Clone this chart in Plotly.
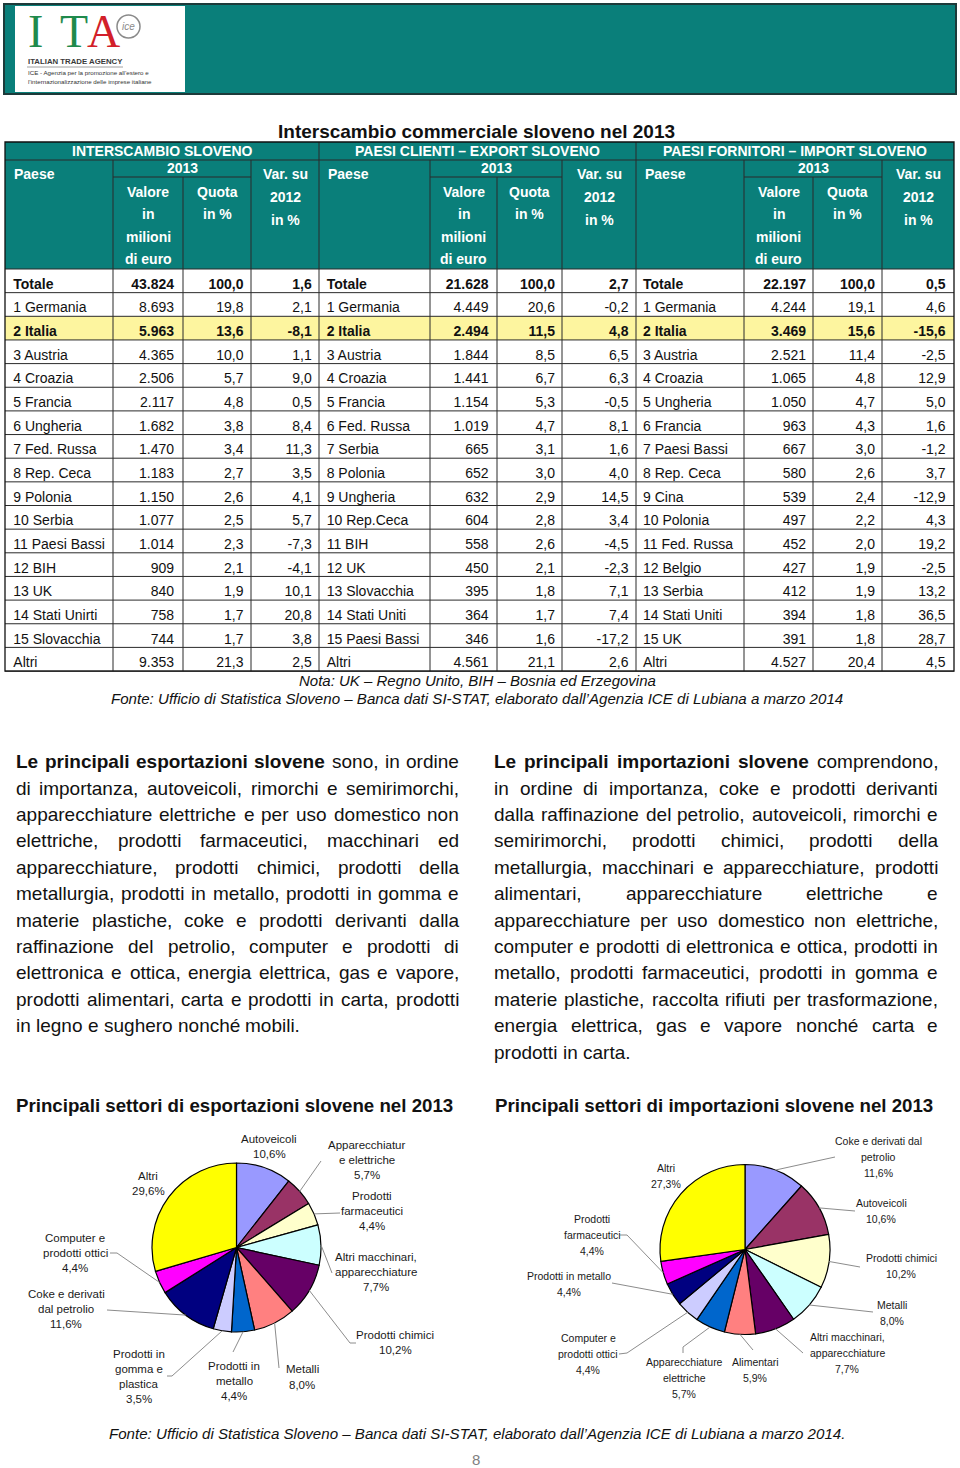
import math
import plotly.graph_objects as go

W, H = 960, 1468
FONT = "Liberation Sans, Arial, Helvetica, sans-serif"
SERIF = "Liberation Serif, DejaVu Serif, serif"
TEAL = "#0a7f7a"
GRID = "#2a2a2a"
HIGHLIGHT = "#fdf59f"
INK = "#111111"

# ---------------- table data ----------------
inter_paesi = ["Totale", "1 Germania", "2 Italia", "3 Austria", "4 Croazia", "5 Francia", "6 Ungheria",
               "7 Fed. Russa", "8 Rep. Ceca", "9 Polonia", "10 Serbia", "11 Paesi Bassi", "12 BIH",
               "13 UK", "14 Stati Unirti", "15 Slovacchia", "Altri"]
inter_valore = [43824, 8693, 5963, 4365, 2506, 2117, 1682, 1470, 1183, 1150, 1077, 1014, 909, 840, 758, 744, 9353]
inter_quota = [100.0, 19.8, 13.6, 10.0, 5.7, 4.8, 3.8, 3.4, 2.7, 2.6, 2.5, 2.3, 2.1, 1.9, 1.7, 1.7, 21.3]
inter_var = [1.6, 2.1, -8.1, 1.1, 9.0, 0.5, 8.4, 11.3, 3.5, 4.1, 5.7, -7.3, -4.1, 10.1, 20.8, 3.8, 2.5]

export_paesi = ["Totale", "1 Germania", "2 Italia", "3 Austria", "4 Croazia", "5 Francia", "6 Fed. Russa",
                "7 Serbia", "8 Polonia", "9 Ungheria", "10 Rep.Ceca", "11 BIH", "12 UK", "13 Slovacchia",
                "14 Stati Uniti", "15 Paesi Bassi", "Altri"]
export_valore = [21628, 4449, 2494, 1844, 1441, 1154, 1019, 665, 652, 632, 604, 558, 450, 395, 364, 346, 4561]
export_quota = [100.0, 20.6, 11.5, 8.5, 6.7, 5.3, 4.7, 3.1, 3.0, 2.9, 2.8, 2.6, 2.1, 1.8, 1.7, 1.6, 21.1]
export_var = [2.7, -0.2, 4.8, 6.5, 6.3, -0.5, 8.1, 1.6, 4.0, 14.5, 3.4, -4.5, -2.3, 7.1, 7.4, -17.2, 2.6]

import_paesi = ["Totale", "1 Germania", "2 Italia", "3 Austria", "4 Croazia", "5 Ungheria", "6 Francia",
                "7 Paesi Bassi", "8 Rep. Ceca", "9 Cina", "10 Polonia", "11 Fed. Russa", "12 Belgio",
                "13 Serbia", "14 Stati Uniti", "15 UK", "Altri"]
import_valore = [22197, 4244, 3469, 2521, 1065, 1050, 963, 667, 580, 539, 497, 452, 427, 412, 394, 391, 4527]
import_quota = [100.0, 19.1, 15.6, 11.4, 4.8, 4.7, 4.3, 3.0, 2.6, 2.4, 2.2, 2.0, 1.9, 1.9, 1.8, 1.8, 20.4]
import_var = [0.5, 4.6, -15.6, -2.5, 12.9, 5.0, 1.6, -1.2, 3.7, -12.9, 4.3, 19.2, -2.5, 13.2, 36.5, 28.7, 4.5]

section_titles = ["INTERSCAMBIO SLOVENO", "PAESI CLIENTI \u2013 EXPORT SLOVENO", "PAESI FORNITORI \u2013 IMPORT SLOVENO"]
bold_rows = {"Totale", "2 Italia"}
highlight_row = "2 Italia"

# ---------------- pie data ----------------
exp_settori = ["Autoveicoli", "Apparecchiature elettriche", "Prodotti farmaceutici",
               "Altri macchinari, apparecchiature", "Prodotti chimici", "Metalli", "Prodotti in metallo",
               "Prodotti in gomma e plastica", "Coke e derivati dal petrolio", "Computer e prodotti ottici", "Altri"]
exp_quote = [10.6, 5.7, 4.4, 7.7, 10.2, 8.0, 4.4, 3.5, 11.6, 4.4, 29.6]

imp_settori = ["Coke e derivati dal petrolio", "Autoveicoli", "Prodotti chimici", "Metalli",
               "Altri macchinari, apparecchiature", "Alimentari", "Apparecchiature elettriche",
               "Computer e prodotti ottici", "Prodotti in metallo", "Prodotti farmaceutici", "Altri"]
imp_quote = [11.6, 10.6, 10.2, 8.0, 7.7, 5.9, 5.7, 4.4, 4.4, 4.4, 27.3]

pie_colors = ["#9999FF", "#993366", "#FFFFCC", "#CCFFFF", "#660066", "#FF8080",
              "#0066CC", "#CCCCFF", "#000080", "#FF00FF", "#FFFF00"]

# ---------------- texts ----------------
title_text = "Interscambio commerciale sloveno nel 2013"
nota_text = "Nota: UK \u2013 Regno Unito, BIH \u2013 Bosnia ed Erzegovina"
fonte_text = ("Fonte: Ufficio di Statistica Sloveno \u2013 Banca dati SI-STAT, elaborato "
              "dall\u2019Agenzia ICE di Lubiana a marzo 2014")
left_par = [
    "**Le principali esportazioni slovene** sono, in ordine",
    "di importanza, autoveicoli, rimorchi e semirimorchi,",
    "apparecchiature elettriche e per uso domestico non",
    "elettriche, prodotti farmaceutici, macchinari ed",
    "apparecchiature, prodotti chimici, prodotti della",
    "metallurgia, prodotti in metallo, prodotti in gomma e",
    "materie plastiche, coke e prodotti derivanti dalla",
    "raffinazione del petrolio, computer e prodotti di",
    "elettronica e ottica, energia elettrica, gas e vapore,",
    "prodotti alimentari, carta e prodotti in carta, prodotti",
    "in legno e sughero nonch\u00e9 mobili.",
]
right_par = [
    "**Le principali importazioni slovene** comprendono,",
    "in ordine di importanza, coke e prodotti derivanti",
    "dalla raffinazione del petrolio, autoveicoli, rimorchi e",
    "semirimorchi, prodotti chimici, prodotti della",
    "metallurgia, macchinari e apparecchiature, prodotti",
    "alimentari, apparecchiature elettriche e",
    "apparecchiature per uso domestico non elettriche,",
    "computer e prodotti di elettronica e ottica, prodotti in",
    "metallo, prodotti farmaceutici, prodotti in gomma e",
    "materie plastiche, raccolta rifiuti per trasformazione,",
    "energia elettrica, gas e vapore nonch\u00e9 carta e",
    "prodotti in carta.",
]
pie_title_exp = "Principali settori di esportazioni slovene nel 2013"
pie_title_imp = "Principali settori di importazioni slovene nel 2013"
fonte_pie = fonte_text + "."


def fmt_int(v):
    return f"{v:,}".replace(",", ".")


def fmt_dec(v):
    return f"{v:.1f}".replace(".", ",")


fig = go.Figure()
shapes = []
annotations = []


def rect(x0, y0, x1, y1, fill, lc=None, lw=0, layer="below"):
    shapes.append(dict(type="rect", xref="x", yref="y", x0=x0, y0=y0, x1=x1, y1=y1,
                       fillcolor=fill, line=dict(color=lc or fill, width=lw), layer=layer))


def line(x0, y0, x1, y1, color=GRID, width=1, layer="above"):
    shapes.append(dict(type="line", xref="x", yref="y", x0=x0, y0=y0, x1=x1, y1=y1,
                       line=dict(color=color, width=width), layer=layer))


def text(x, y, s, size, color=INK, anchor="center", bold=False, italic=False, family=FONT):
    if bold:
        s = f"<b>{s}</b>"
    if italic:
        s = f"<i>{s}</i>"
    annotations.append(dict(x=x, y=y, xref="x", yref="y", text=s, showarrow=False,
                            xanchor=anchor, yanchor="middle", borderpad=0,
                            font=dict(family=family, size=size, color=color)))


# ---------------- header banner ----------------
rect(4, 4, 956, 94, TEAL, "#1d3a3a", 2)
rect(15, 6, 185, 92, "white")
text(35, 31.5, "I", 46, color="#1f8a4c", family=SERIF)
text(74, 31.5, "T", 46, color="#1f8a4c", family=SERIF)
text(103, 31.5, "A", 46, color="#d21f2a", family=SERIF)
shapes.append(dict(type="circle", xref="x", yref="y", x0=117, y0=15, x1=140, y1=38,
                   line=dict(color="#8a8a8a", width=1.5), fillcolor="white", layer="above"))
text(128.5, 26.5, "ice", 10, color="#8a8a8a", italic=True)
text(27, 61.5, "ITALIAN TRADE AGENCY", 7.8, color="#3a3a3a", anchor="left", bold=True)
line(27, 67, 123, 67, color="#888", width=0.8)
text(27, 72.5, "ICE - Agenzia per la promozione all\u2019estero e", 6.2, color="#333", anchor="left")
text(27, 81, "l\u2019internazionalizzazione delle imprese italiane", 6.2, color="#333", anchor="left")

# ---------------- table ----------------
text(476.5, 131, title_text, 19, bold=True)

sec_cols = [[5, 113, 183, 251, 319], [319, 430, 497, 562, 636], [636, 744, 813, 882, 954]]
TY0, TY_SEC, TY_YEAR, TY_HEAD = 142, 160, 177, 269
RH = 23.65
NR = len(inter_paesi)
TY1 = TY_HEAD + NR * RH

rect(5, TY0, 954, TY_HEAD, TEAL)
hi = inter_paesi.index(highlight_row)
rect(5, TY_HEAD + hi * RH, 954, TY_HEAD + (hi + 1) * RH, HIGHLIGHT)

line(5, TY_SEC, 954, TY_SEC)
for i in range(NR + 1):
    line(5, TY_HEAD + i * RH, 954, TY_HEAD + i * RH)
for cols in sec_cols:
    c0, c1, c2, c3, c4 = cols
    line(c1, TY_SEC, c1, TY1)
    line(c3, TY_SEC, c3, TY1)
    line(c2, TY_YEAR, c2, TY1)
    line(c1, TY_YEAR, c3, TY_YEAR)
line(319, TY0, 319, TY1)
line(636, TY0, 636, TY1)
rect(5, TY0, 954, TY1, "rgba(0,0,0,0)", "#111", 1.3, layer="above")

for s, cols in enumerate(sec_cols):
    c0, c1, c2, c3, c4 = cols
    text((c0 + c4) / 2, 151, section_titles[s], 14, "white", bold=True)
    text(c0 + 8, 174.3, "Paese", 14, "white", anchor="left", bold=True)
    text((c1 + c3) / 2, 168.3, "2013", 14, "white", bold=True)
    for yy, t in zip([192, 214.3, 237, 259], ["Valore", "in", "milioni", "di euro"]):
        text((c1 + c2) / 2, yy, t, 14, "white", bold=True)
    for yy, t in zip([192, 214.3], ["Quota", "in %"]):
        text((c2 + c3) / 2, yy, t, 14, "white", bold=True)
    for yy, t in zip([174, 197, 220], ["Var. su", "2012", "in %"]):
        text((c3 + c4) / 2, yy, t, 14, "white", bold=True)

sections = [
    (inter_paesi, inter_valore, inter_quota, inter_var, 13.3, 174, 243.5, 311.7),
    (export_paesi, export_valore, export_quota, export_var, 326.7, 488.5, 555, 628.5),
    (import_paesi, import_valore, import_quota, import_var, 643, 806, 875, 945.5),
]
row_y = [TY_HEAD + i * RH + 16.3 for i in range(NR)]
for paesi, valore, quota, var, xp, xv, xq, xr in sections:
    isb = [p in bold_rows for p in paesi]
    cols = [
        ([p for p in paesi], xp, "middle right"),
        ([fmt_int(v) for v in valore], xv, "middle left"),
        ([fmt_dec(v) for v in quota], xq, "middle left"),
        ([fmt_dec(v) for v in var], xr, "middle left"),
    ]
    for vals, x, pos in cols:
        txt = [f"<b>{v}</b>" if b else v for v, b in zip(vals, isb)]
        fig.add_trace(go.Scatter(x=[x] * NR, y=row_y, text=txt, mode="text", textposition=pos,
                                 textfont=dict(family=FONT, size=14, color=INK),
                                 hoverinfo="skip", showlegend=False))

text(477, 680, nota_text, 15, italic=True)
text(477, 698, fonte_text, 15.1, italic=True)

# ---------------- justified paragraphs ----------------
RWID = {'a': 556, 'b': 556, 'c': 500, 'd': 556, 'e': 556, 'f': 278, 'g': 556, 'h': 556, 'i': 222,
        'j': 222, 'k': 500, 'l': 222, 'm': 833, 'n': 556, 'o': 556, 'p': 556, 'q': 556, 'r': 333,
        's': 500, 't': 278, 'u': 556, 'v': 500, 'w': 722, 'x': 500, 'y': 500, 'z': 500, '\u00e9': 556,
        ',': 278, '.': 278, ' ': 278}
BWID = {'a': 556, 'b': 611, 'c': 556, 'd': 611, 'e': 556, 'f': 333, 'g': 611, 'h': 611, 'i': 278,
        'l': 278, 'm': 889, 'n': 611, 'o': 611, 'p': 611, 'r': 389, 's': 556, 't': 333, 'u': 611,
        'v': 556, 'z': 500, 'L': 611, ' ': 278}


def word_width(w, bold, size):
    tbl = BWID if bold else RWID
    return sum(tbl.get(ch, 556) for ch in w) * size / 1000.0


def paragraph(lines, x0, x1, y0, dy, size):
    for li, ln in enumerate(lines):
        parts = ln.split("**")
        words = []
        for pi, part in enumerate(parts):
            for w in part.split():
                words.append((w, pi % 2 == 1))
        widths = [word_width(w, b, size) for w, b in words]
        last = li == len(lines) - 1
        if last or len(words) < 2:
            gap = 278 * size / 1000.0
        else:
            gap = (x1 - x0 - sum(widths)) / (len(words) - 1)
        x = x0
        y = y0 + li * dy
        for (w, b), wd in zip(words, widths):
            text(x, y, w, size, anchor="left", bold=b)
            x += wd + gap


paragraph(left_par, 15, 458, 761.7, 26.4, 19)
paragraph(right_par, 493, 937, 761.7, 26.4, 19)

# ---------------- pies ----------------
text(15, 1105, pie_title_exp, 18.7, anchor="left", bold=True)
text(494, 1105, pie_title_imp, 18.7, anchor="left", bold=True)

exp_label_layout = {
    "Autoveicoli": (["Autoveicoli"], (269, 1146.5), None),
    "Apparecchiature elettriche": (["Apparecchiatur", "e elettriche"], (367, 1160), [(321, 1161)]),
    "Prodotti farmaceutici": (["Prodotti", "farmaceutici"], (372, 1211), [(340, 1213)]),
    "Altri macchinari, apparecchiature": (["Altri macchinari,", "apparecchiature"], (376, 1272), [(332, 1273)]),
    "Prodotti chimici": (["Prodotti chimici"], (395, 1342.5), [(350, 1343), (356, 1343)]),
    "Metalli": (["Metalli"], (302, 1377), [(279, 1368)]),
    "Prodotti in metallo": (["Prodotti in", "metallo"], (234, 1381), [(233, 1352)]),
    "Prodotti in gomma e plastica": (["Prodotti in", "gomma e", "plastica"], (139, 1376.5), [(172, 1376), (167, 1376)]),
    "Coke e derivati dal petrolio": (["Coke e derivati", "dal petrolio"], (66, 1309), [(107, 1310)]),
    "Computer e prodotti ottici": (["Computer e", "prodotti ottici"], (75, 1253), [(117, 1253), (110, 1253)]),
    "Altri": (["Altri"], (148, 1183.5), None),
}
imp_label_layout = {
    "Coke e derivati dal petrolio": (["Coke e derivati dal", "petrolio"], (878, 1157), [(835, 1157)]),
    "Autoveicoli": (["Autoveicoli"], (881, 1210.5), [(855, 1211)]),
    "Prodotti chimici": (["Prodotti chimici"], (901, 1265.5), [(860, 1267)]),
    "Metalli": (["Metalli"], (892, 1312.5), [(873, 1312)]),
    "Altri macchinari, apparecchiature": (["Altri macchinari,", "apparecchiature"], (847, 1352.5), [(803, 1353)]),
    "Alimentari": (["Alimentari"], (755, 1370), [(753, 1350)]),
    "Apparecchiature elettriche": (["Apparecchiature", "elettriche"], (684, 1377.5), [(683, 1347), (683, 1353)]),
    "Computer e prodotti ottici": (["Computer e", "prodotti ottici"], (588, 1354), [(627, 1353), (619, 1354)]),
    "Prodotti in metallo": (["Prodotti in metallo"], (569, 1283.5), [(612, 1283)]),
    "Prodotti farmaceutici": (["Prodotti", "farmaceutici"], (592, 1235), [(627, 1235), (620, 1235)]),
    "Altri": (["Altri"], (666, 1176), None),
}


def add_pie(names, values, cx, cy, r, layout, fsize, lsp):
    fig.add_trace(go.Pie(
        labels=names, values=values, sort=False, direction="clockwise", rotation=0,
        textinfo="none", hoverinfo="label+percent", showlegend=False,
        marker=dict(colors=pie_colors, line=dict(color="#000000", width=1.2)),
        domain=dict(x=[(cx - r) / W, (cx + r) / W], y=[1 - (cy + r) / H, 1 - (cy - r) / H]),
    ))
    tot = float(sum(values))
    cum = 0.0
    for name, v in zip(names, values):
        frac = (cum + v / 2.0) / tot
        cum += v
        lines, (lx, ly), leader = layout[name]
        lines = lines + [fmt_dec(v) + "%"]
        n = len(lines)
        for k, t in enumerate(lines):
            text(lx, ly + (k - (n - 1) / 2.0) * lsp, t, fsize, color="#1a1a1a")
        if leader:
            ang = 2 * math.pi * frac
            ax, ay = cx + r * math.sin(ang), cy - r * math.cos(ang)
            pts = [(ax, ay)] + leader
            path = "M " + " L ".join(f"{px:.1f},{py:.1f}" for px, py in pts)
            shapes.append(dict(type="path", xref="x", yref="y", path=path,
                               line=dict(color="#8c8c8c", width=1), layer="above"))


add_pie(exp_settori, exp_quote, 236.5, 1247.5, 84.5, exp_label_layout, 11.5, 15.3)
add_pie(imp_settori, imp_quote, 745, 1249.5, 85, imp_label_layout, 10.5, 16)

text(477, 1433, fonte_pie, 15.1, italic=True)
text(476, 1459, "8", 15, color="#808080")

fig.update_layout(
    width=W, height=H, margin=dict(l=0, r=0, t=0, b=0),
    paper_bgcolor="white", plot_bgcolor="white", showlegend=False,
    xaxis=dict(range=[0, W], visible=False, fixedrange=True, domain=[0, 1]),
    yaxis=dict(range=[H, 0], visible=False, fixedrange=True, domain=[0, 1]),
    shapes=shapes, annotations=annotations,
)
fig.write_html("out.html", config={"displayModeBar": False},
               post_script="document.body.style.margin='0px';document.body.style.padding='0px';"
                           "document.body.style.overflow='hidden';")
